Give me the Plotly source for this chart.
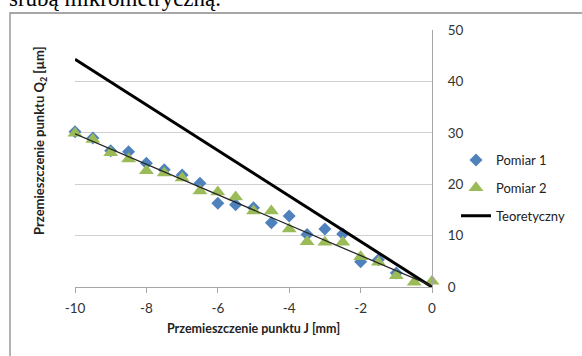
import plotly.graph_objects as go

# ---- data ----
x_vals = [-10, -9.5, -9, -8.5, -8, -7.5, -7, -6.5, -6, -5.5, -5,
          -4.5, -4, -3.5, -3, -2.5, -2, -1.5, -1, -0.5, 0]
pomiar1 = [30.2, 29.0, 26.5, 26.3, 24.1, 22.8, 21.8, 20.2, 16.3, 16.0, 15.4,
           12.5, 13.8, 10.2, 11.3, 10.3, 4.9, 5.3, 2.7, -0.4, -0.4]
pomiar2 = [29.9, 28.7, 26.1, 24.9, 22.6, 22.2, 21.2, 18.7, 18.5, 17.5, 14.8,
           14.8, 11.3, 8.8, 8.7, 8.7, 5.9, 4.8, 2.2, 0.9, 1.1]
teor_x = [-10, 0]
teor_y = [44.3, 0]
trend_x = [-10, 0]
trend_y = [29.8, 0.2]
x_ticks = [-10, -8, -6, -4, -2, 0]
x_tick_text = ["-10", "-8", "-6", "-4", "-2", "0"]
y_ticks = [0, 10, 20, 30, 40, 50]

W, H = 582, 356
L, R, T, B = 75, 150, 30, 69
PW, PH = W - L - R, H - T - B


def px(x):
    return (x - L) / PW


def py(y):
    return (H - B - y) / PH


FONT = "Lato"

fig = go.Figure()
fig.add_trace(go.Scatter(
    x=x_vals, y=pomiar1, mode="markers", name="Pomiar 1", legendgroup="a",
    marker=dict(symbol="diamond", size=10, color="#4F81BD"), cliponaxis=False))
fig.add_trace(go.Scatter(
    x=x_vals, y=pomiar2, mode="markers", name="Pomiar 2", legendgroup="b",
    marker=dict(symbol="triangle-up", size=13, color="#9BBB59"), cliponaxis=False))
fig.add_trace(go.Scatter(
    x=teor_x, y=teor_y, mode="lines", name="Teoretyczny", legendgroup="c",
    line=dict(color="black", width=3), cliponaxis=False))
fig.add_trace(go.Scatter(
    x=trend_x, y=trend_y, mode="lines", showlegend=False,
    line=dict(color="#262626", width=1.3), cliponaxis=False))

fig.update_layout(
    width=W, height=H, autosize=False,
    margin=dict(l=L, r=R, t=T, b=B, pad=0),
    paper_bgcolor="white", plot_bgcolor="white",
    font=dict(family=FONT, size=13, color="#333333"),
    showlegend=True,
    legend=dict(x=px(456), y=py(145), xanchor="left", yanchor="top",
                font=dict(family=FONT, size=13, color="#222222"),
                tracegroupgap=8, bgcolor="rgba(0,0,0,0)"),
    xaxis=dict(range=[-10, 0], tickvals=x_ticks, ticktext=x_tick_text,
               showgrid=False, zeroline=False,
               showline=True, linecolor="#A6A6A6", linewidth=1,
               ticks="outside", ticklen=5, tickcolor="#A6A6A6",
               ticklabelstandoff=4,
               tickfont=dict(family=FONT, size=13.5, color="#333333"),
               title=dict(text="<b>Przemieszczenie punktu J [mm]</b>",
                          font=dict(family=FONT, size=12.5, color="#222222"),
                          standoff=9)),
    yaxis=dict(range=[0, 50], tickvals=y_ticks, side="right", zeroline=False,
               showgrid=True, gridcolor="#CFCFCF", gridwidth=1,
               showline=True, linecolor="#A6A6A6", linewidth=1,
               ticks="", ticklabelstandoff=12,
               tickfont=dict(family=FONT, size=13.5, color="#333333")),
    shapes=[dict(type="rect", xref="paper", yref="paper",
                 x0=px(10), x1=px(620), y0=py(400), y1=py(13),
                 line=dict(color="#8A8A8A", width=1.3), layer="below")],
    annotations=[
        dict(text="<b>Przemieszczenie punktu Q<sub>2</sub> [µm]</b>",
             textangle=-90, xref="paper", yref="paper",
             x=px(40), y=py(141), xanchor="center", yanchor="middle",
             showarrow=False, font=dict(family=FONT, size=13, color="#222222")),
        dict(text="śrubą mikrometryczną.", xref="paper", yref="paper",
             x=px(7), y=py(13), xanchor="left", yanchor="bottom",
             showarrow=False, font=dict(family="Liberation Serif", size=23, color="black")),
    ],
)

fig.write_html("out.html")
